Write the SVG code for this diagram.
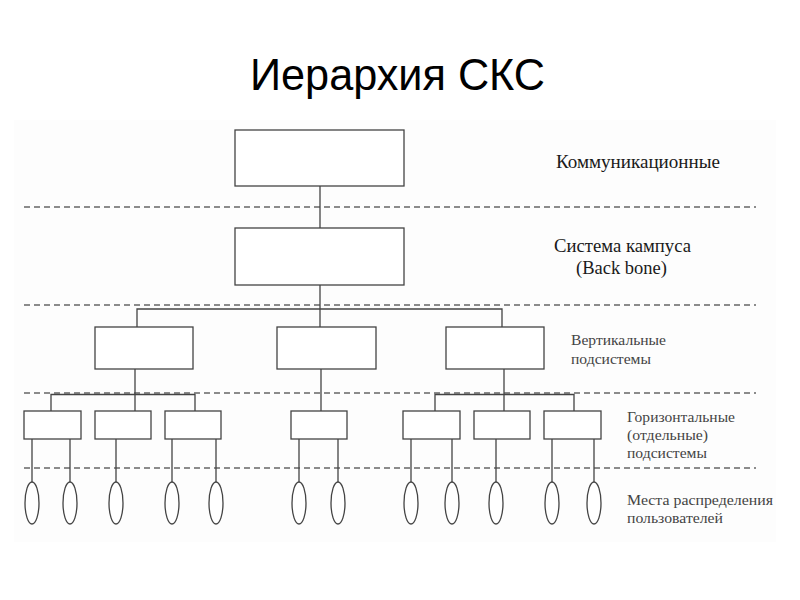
<svg xmlns="http://www.w3.org/2000/svg" width="800" height="600" viewBox="0 0 800 600">
<style>
.box{fill:#fff;stroke:#444;stroke-width:1.3}
.ell{fill:#fff;stroke:#444;stroke-width:1.3}
.ln{fill:none;stroke:#444;stroke-width:1.3}
.dash{fill:none;stroke:#666;stroke-width:1.6;stroke-dasharray:6,4}
.lbl{font-family:"Liberation Serif",serif;fill:#1a1a1a;font-size:18px}
.sub{font-family:"Liberation Serif",serif;fill:#444;font-size:14.5px}
.title{font-family:"Liberation Sans",Arial,sans-serif;font-size:44px;fill:#000}
</style>
<rect width="800" height="600" fill="#fff"/>
<rect x="14" y="120" width="762" height="422" fill="#fdfdfd"/>
<text class="title" x="250" y="90" textLength="295" lengthAdjust="spacingAndGlyphs">Иерархия СКС</text>
<g id="levels">
<line class="dash" x1="24" y1="207" x2="756" y2="207"/>
<line class="dash" x1="24" y1="305" x2="756" y2="305"/>
<line class="dash" x1="24" y1="393" x2="756" y2="393"/>
<line class="dash" x1="24" y1="468" x2="756" y2="468"/>
</g>
<g id="connectors">
<line class="ln" x1="320" y1="186" x2="320" y2="228"/>
<line class="ln" x1="320" y1="285" x2="320" y2="327"/>
<polyline class="ln" points="137,327 137,309 502,309 502,327"/>
<line class="ln" x1="135" y1="369" x2="135" y2="411"/>
<polyline class="ln" points="51,411 51,394.5 195,394.5 195,411"/>
<line class="ln" x1="321" y1="369" x2="321" y2="411"/>
<line class="ln" x1="504" y1="369" x2="504" y2="411"/>
<polyline class="ln" points="435,411 435,394.5 574,394.5 574,411"/>
<line class="ln" x1="32" y1="439" x2="32" y2="483"/>
<line class="ln" x1="70" y1="439" x2="70" y2="483"/>
<line class="ln" x1="116" y1="439" x2="116" y2="483"/>
<line class="ln" x1="172" y1="439" x2="172" y2="483"/>
<line class="ln" x1="216" y1="439" x2="216" y2="483"/>
<line class="ln" x1="299" y1="439" x2="299" y2="483"/>
<line class="ln" x1="338" y1="439" x2="338" y2="483"/>
<line class="ln" x1="411" y1="439" x2="411" y2="483"/>
<line class="ln" x1="452" y1="439" x2="452" y2="483"/>
<line class="ln" x1="496" y1="439" x2="496" y2="483"/>
<line class="ln" x1="552" y1="439" x2="552" y2="483"/>
<line class="ln" x1="594" y1="439" x2="594" y2="483"/>
</g>
<g id="n-comm"><rect class="box" x="235" y="130" width="169" height="56"/></g>
<g id="n-campus"><rect class="box" x="235" y="228" width="169" height="57"/></g>
<g id="n-v1"><rect class="box" x="95" y="327" width="98" height="42"/></g>
<g id="n-v2"><rect class="box" x="277" y="327" width="99" height="42"/></g>
<g id="n-v3"><rect class="box" x="446" y="327" width="98" height="42"/></g>
<g id="n-h1"><rect class="box" x="24" y="411" width="57" height="28"/></g>
<g id="n-h2"><rect class="box" x="95" y="411" width="56" height="28"/></g>
<g id="n-h3"><rect class="box" x="165" y="411" width="56" height="28"/></g>
<g id="n-h4"><rect class="box" x="291" y="411" width="56" height="28"/></g>
<g id="n-h5"><rect class="box" x="403" y="411" width="57" height="28"/></g>
<g id="n-h6"><rect class="box" x="474" y="411" width="56" height="28"/></g>
<g id="n-h7"><rect class="box" x="544" y="411" width="57" height="28"/></g>
<g id="n-e1"><ellipse class="ell" cx="32" cy="503" rx="7" ry="21"/></g>
<g id="n-e2"><ellipse class="ell" cx="70" cy="503" rx="7" ry="21"/></g>
<g id="n-e3"><ellipse class="ell" cx="116" cy="503" rx="7" ry="21"/></g>
<g id="n-e4"><ellipse class="ell" cx="172" cy="503" rx="7" ry="21"/></g>
<g id="n-e5"><ellipse class="ell" cx="216" cy="503" rx="7" ry="21"/></g>
<g id="n-e6"><ellipse class="ell" cx="299" cy="503" rx="7" ry="21"/></g>
<g id="n-e7"><ellipse class="ell" cx="338" cy="503" rx="7" ry="21"/></g>
<g id="n-e8"><ellipse class="ell" cx="411" cy="503" rx="7" ry="21"/></g>
<g id="n-e9"><ellipse class="ell" cx="452" cy="503" rx="7" ry="21"/></g>
<g id="n-e10"><ellipse class="ell" cx="496" cy="503" rx="7" ry="21"/></g>
<g id="n-e11"><ellipse class="ell" cx="552" cy="503" rx="7" ry="21"/></g>
<g id="n-e12"><ellipse class="ell" cx="594" cy="503" rx="7" ry="21"/></g>
<g id="labels">
<text class="lbl" x="556" y="168" textLength="164" lengthAdjust="spacingAndGlyphs">Коммуникационные</text>
<text class="lbl" x="554" y="252" textLength="137" lengthAdjust="spacingAndGlyphs">Система кампуса</text>
<text class="lbl" x="576" y="274" textLength="91" lengthAdjust="spacingAndGlyphs">(Back bone)</text>
<text class="sub" x="571" y="345" textLength="95" lengthAdjust="spacingAndGlyphs">Вертикальные</text>
<text class="sub" x="571" y="364" textLength="80" lengthAdjust="spacingAndGlyphs">подсистемы</text>
<text class="sub" x="627" y="422" textLength="108" lengthAdjust="spacingAndGlyphs">Горизонтальные</text>
<text class="sub" x="627" y="440" textLength="81" lengthAdjust="spacingAndGlyphs">(отдельные)</text>
<text class="sub" x="627" y="458" textLength="80" lengthAdjust="spacingAndGlyphs">подсистемы</text>
<text class="sub" x="627" y="505" textLength="146" lengthAdjust="spacingAndGlyphs">Места распределения</text>
<text class="sub" x="627" y="523" textLength="96" lengthAdjust="spacingAndGlyphs">пользователей</text>
</g>
</svg>
